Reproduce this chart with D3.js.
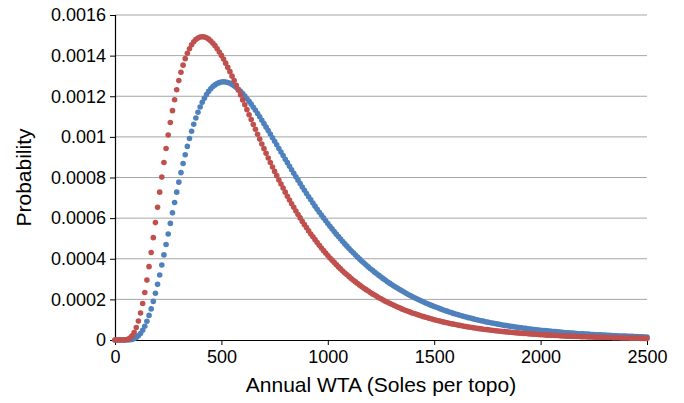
<!DOCTYPE html>
<html>
<head>
<meta charset="utf-8">
<script src="https://cdn.jsdelivr.net/npm/d3@7.9.0/dist/d3.min.js"></script>
<style>
  body { margin: 0; background: #fff; }
  svg { display: block; font-family: "Liberation Sans", Arial, sans-serif; }
  .grid line { stroke: #a6a6a6; stroke-width: 1; }
</style>
</head>
<body>
<svg id="chart" width="684" height="403"></svg>
<script>
// x grid: WTA from 0 to 2500, one point every 10 soles
const wta = d3.range(0, 2501, 10);

// probabilities, in units of 1e-6
const redProbE6 = [
  0, 0, 0, 0, 0, 1, 4, 10, 21, 37, 61, 93, 133, 180, 234, 295, 361, 431, 504, 578,
  653, 728, 802, 874, 943, 1009, 1071, 1129, 1183, 1232, 1277, 1318, 1353, 1385, 1412, 1434, 1453, 1468, 1479, 1487,
  1492, 1493, 1492, 1488, 1481, 1472, 1461, 1449, 1434, 1418, 1401, 1383, 1363, 1342, 1321, 1299, 1277, 1254, 1230, 1206,
  1182, 1158, 1134, 1109, 1085, 1061, 1037, 1013, 989, 965, 942, 919, 896, 874, 852, 830, 809, 788, 768, 748,
  728, 708, 689, 671, 653, 635, 618, 601, 584, 568, 553, 537, 522, 508, 494, 480, 466, 453, 440, 428,
  416, 404, 393, 382, 371, 360, 350, 340, 330, 321, 312, 303, 294, 286, 278, 270, 262, 255, 248, 241,
  234, 227, 221, 215, 208, 203, 197, 191, 186, 181, 176, 171, 166, 161, 157, 152, 148, 144, 140, 136,
  132, 129, 125, 122, 118, 115, 112, 109, 106, 103, 100, 97, 95, 92, 89, 87, 85, 82, 80, 78,
  76, 74, 72, 70, 68, 66, 64, 63, 61, 59, 58, 56, 55, 53, 52, 51, 49, 48, 47, 45,
  44, 43, 42, 41, 40, 39, 38, 37, 36, 35, 34, 33, 32, 32, 31, 30, 29, 28, 28, 27,
  26, 26, 25, 24, 24, 23, 23, 22, 22, 21, 20, 20, 19, 19, 19, 18, 18, 17, 17, 16,
  16, 16, 15, 15, 15, 14, 14, 13, 13, 13, 13, 12, 12, 12, 11, 11, 11, 11, 10, 10,
  10, 10, 9, 9, 9, 9, 9, 8, 8, 8, 8
];

const blueProbE6 = [
  0, 0, 0, 0, 0, 0, 0, 1, 3, 7, 12, 21, 32, 48, 68, 92, 121, 153, 190, 230,
  274, 320, 369, 419, 470, 522, 574, 626, 677, 728, 777, 824, 869, 912, 953, 992, 1028, 1062, 1093, 1121,
  1147, 1170, 1190, 1208, 1224, 1237, 1248, 1256, 1263, 1267, 1270, 1271, 1270, 1268, 1264, 1258, 1251, 1243, 1234, 1224,
  1213, 1201, 1188, 1175, 1161, 1146, 1131, 1115, 1099, 1082, 1065, 1048, 1031, 1014, 996, 978, 961, 943, 925, 908,
  890, 873, 855, 838, 821, 804, 787, 770, 753, 737, 721, 705, 690, 674, 659, 644, 629, 615, 601, 587,
  573, 560, 547, 534, 521, 509, 497, 485, 473, 462, 450, 439, 429, 418, 408, 398, 388, 379, 369, 360,
  351, 343, 334, 326, 318, 310, 302, 295, 287, 280, 273, 266, 260, 253, 247, 241, 235, 229, 223, 218,
  212, 207, 202, 197, 192, 187, 182, 178, 173, 169, 165, 161, 157, 153, 149, 145, 142, 138, 135, 131,
  128, 125, 122, 119, 116, 113, 110, 108, 105, 102, 100, 97, 95, 93, 90, 88, 86, 84, 82, 80,
  78, 76, 74, 72, 71, 69, 67, 66, 64, 63, 61, 60, 58, 57, 55, 54, 53, 52, 50, 49,
  48, 47, 46, 45, 44, 43, 42, 41, 40, 39, 38, 37, 36, 35, 34, 34, 33, 32, 31, 31,
  30, 29, 29, 28, 27, 27, 26, 25, 25, 24, 24, 23, 23, 22, 22, 21, 21, 20, 20, 19,
  19, 18, 18, 18, 17, 17, 16, 16, 16, 15, 15
];

const yTicks = [0, 0.0002, 0.0004, 0.0006, 0.0008, 0.001, 0.0012, 0.0014, 0.0016];
const yTickLabels = ["0", "0.0002", "0.0004", "0.0006", "0.0008", "0.001", "0.0012", "0.0014", "0.0016"];
const xTicks = [0, 500, 1000, 1500, 2000, 2500];

const width = 684, height = 403;
const margin = { top: 15, right: 37, bottom: 63, left: 115 };

const svg = d3.select("#chart");

let x = d3.scaleLinear().domain([0, 2500]).range([margin.left, width - margin.right]);
let y = d3.scaleLinear().domain([0, 0.0016]).range([height - margin.bottom, margin.top]);

// horizontal gridlines
svg.append("g")
  .attr("class", "grid")
  .selectAll("line")
  .data(yTicks.slice(1))
  .join("line")
  .attr("x1", margin.left)
  .attr("x2", width - margin.right)
  .attr("y1", (d) => y(d))
  .attr("y2", (d) => y(d));

// y axis
let yAxis = svg.append("g")
  .attr("transform", `translate(${margin.left},0)`)
  .call(d3.axisLeft(y).tickValues(yTicks).tickFormat((d, i) => yTickLabels[i]).tickSize(5).tickPadding(4));
yAxis.select(".domain").attr("stroke", "#000").attr("stroke-width", 1.2);
yAxis.selectAll(".tick line").attr("stroke", "#000");
yAxis.selectAll("text").attr("font-size", 18).attr("fill", "#000").attr("font-family", "Liberation Sans, Arial, sans-serif");

// x axis
let xAxis = svg.append("g")
  .attr("transform", `translate(0,${height - margin.bottom})`)
  .call(d3.axisBottom(x).tickValues(xTicks).tickFormat(d3.format("d")).tickSize(5).tickSizeOuter(0).tickPadding(5));
xAxis.select(".domain").attr("stroke", "#000").attr("stroke-width", 1.2);
xAxis.selectAll(".tick line").attr("stroke", "#000");
xAxis.selectAll("text").attr("font-size", 18).attr("fill", "#000").attr("font-family", "Liberation Sans, Arial, sans-serif");

// series: blue first, red drawn on top
const series = [
  { name: "blue", values: blueProbE6, color: "#4f81bd" },
  { name: "red", values: redProbE6, color: "#c0504d" },
];

series.forEach((s) => {
  svg.append("g")
    .selectAll("circle")
    .data(s.values)
    .join("circle")
    .attr("cx", (d, i) => x(wta[i]))
    .attr("cy", (d) => y(d * 1e-6))
    .attr("r", 2.8)
    .attr("fill", s.color);
});

// axis titles
svg.append("text")
  .attr("x", (margin.left + width - margin.right) / 2)
  .attr("y", 392)
  .attr("text-anchor", "middle")
  .attr("font-size", 21)
  .text("Annual WTA (Soles per topo)");

svg.append("text")
  .attr("transform", `translate(31,${(margin.top + height - margin.bottom) / 2}) rotate(-90)`)
  .attr("text-anchor", "middle")
  .attr("font-size", 21)
  .text("Probability");
</script>
</body>
</html>
